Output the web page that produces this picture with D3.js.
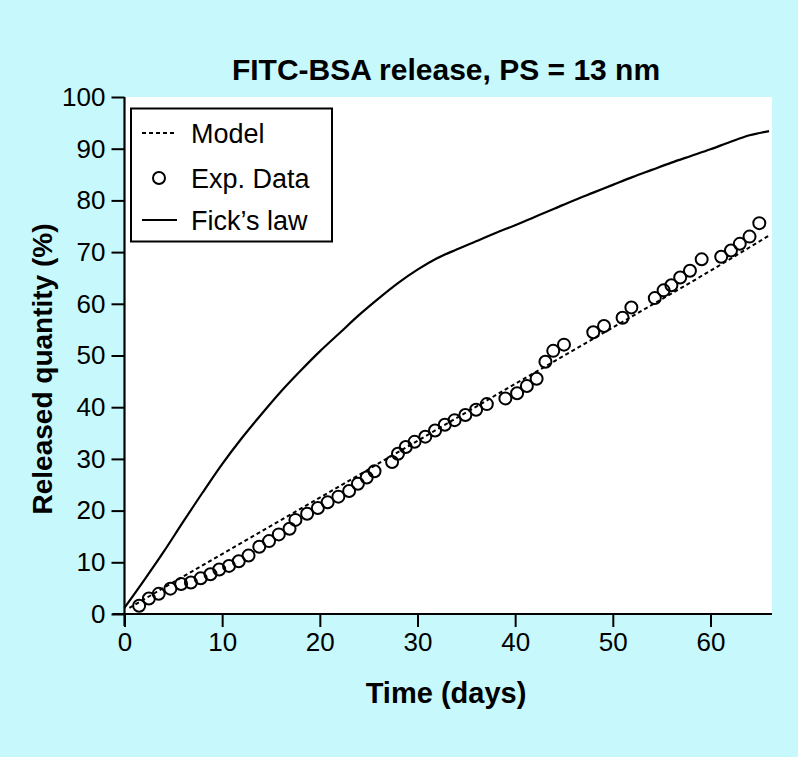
<!DOCTYPE html>
<html><head><meta charset="utf-8">
<script src="https://cdn.jsdelivr.net/npm/d3@7"></script>
<style>body{margin:0;background:#c6f8fc;} svg{display:block;font-family:"Liberation Sans",Arial,Helvetica,sans-serif;}</style>
</head><body>
<script>
const titleText = "FITC-BSA release, PS = 13 nm";
const xLabel = "Time (days)";
const yLabel = "Released quantity (%)";
const xTicks = [0,10,20,30,40,50,60];
const yTicks = [0,10,20,30,40,50,60,70,80,90,100];
const legendLabels = ["Model","Exp. Data","Fick\u2019s law"];

// Experimental data: [day, % released]
const expDays = [1.5,2.5,3.5,4.7,5.8,6.8,7.8,8.8,9.7,10.7,11.7,12.7,13.8,14.8,15.8,16.9,17.5,18.7,19.8,20.8,21.9,23.0,23.9,24.8,25.6,27.4,28.0,28.8,29.7,30.8,31.8,32.8,33.8,34.9,36.0,37.1,39.0,40.2,41.2,42.2,43.1,43.9,45.0,48.0,49.1,51.0,51.9,54.3,55.2,56.0,56.9,57.9,59.1,61.1,62.1,63.0,64.0,65.0];
const expVals = [1.6,3.0,3.9,4.9,5.8,6.1,6.9,7.7,8.6,9.3,10.2,11.3,13.0,14.1,15.4,16.5,18.2,19.4,20.5,21.6,22.7,23.8,25.2,26.4,27.6,29.4,31.0,32.3,33.3,34.3,35.5,36.6,37.5,38.5,39.5,40.6,41.7,42.7,44.1,45.5,48.8,50.9,52.1,54.5,55.7,57.3,59.3,61.1,62.6,63.6,65.1,66.4,68.6,69.1,70.3,71.6,73.0,75.6];

// Model (dotted)
const modelDays = [0.5,10,20,30,40,50,60,66];
const modelVals = [1.2,11.6,22.5,33.5,44.5,55.4,66.4,73.2];

// Fick's law (solid)
const fickDays = [0,2,4,6,8,10,12,14,16,18,20,22,24,26,28,30,32,34,36,38,40,42,44,46,48,50,52,54,56,58,60,62,64,66];
const fickVals = [1.2,6.5,12,17.8,23.5,29,34,38.6,43,47,50.8,54.3,57.8,61,64,66.6,68.8,70.5,72.1,73.7,75.2,76.8,78.4,80,81.5,83,84.5,85.9,87.3,88.6,89.9,91.3,92.6,93.4];

const W = 798, H = 757;
const svg = d3.select("body").append("svg").attr("width", W).attr("height", H);
svg.append("rect").attr("width", W).attr("height", H).attr("fill", "#c6f8fc");

const x = d3.scaleLinear().domain([0, 66.3]).range([124.5, 772]);
const y = d3.scaleLinear().domain([0, 100]).range([614, 97]);

svg.append("rect").attr("x", x(0)).attr("y", y(100)).attr("width", x(66.3) - x(0)).attr("height", y(0) - y(100)).attr("fill", "#fff");

// Axes
const xAxis = svg.append("g").attr("transform", `translate(0,${y(0)})`)
  .call(d3.axisBottom(x).tickValues(xTicks).tickSize(13).tickPadding(6).tickSizeOuter(0));
const yAxis = svg.append("g").attr("transform", `translate(${x(0)},0)`)
  .call(d3.axisLeft(y).tickValues(yTicks).tickSize(13).tickPadding(6).tickSizeOuter(0));
[xAxis, yAxis].forEach(g => {
  g.select(".domain").attr("stroke", "#000").attr("stroke-width", 2.2);
  g.selectAll(".tick line").attr("stroke", "#000").attr("stroke-width", 2);
  g.selectAll(".tick text").attr("fill", "#000").attr("font-size", 26).attr("font-family", "'Liberation Sans', Arial, sans-serif");
});
xAxis.select(".domain").attr("d", `M${x(0)-12},0H${x(66.3)}`);
yAxis.select(".domain").attr("d", `M0,${y(100)}V${y(0)+12}`);

// Fick's law
const line = d3.line().x(d => x(d[0])).y(d => y(d[1])).curve(d3.curveMonotoneX);
svg.append("path").datum(d3.zip(fickDays, fickVals)).attr("d", line)
  .attr("fill", "none").attr("stroke", "#000").attr("stroke-width", 2.2);

// Model
svg.append("path").datum(d3.zip(modelDays, modelVals)).attr("d", line)
  .attr("fill", "none").attr("stroke", "#000").attr("stroke-width", 2).attr("stroke-dasharray", "4,3");

// Exp data
svg.append("g").selectAll("circle").data(d3.zip(expDays, expVals)).join("circle")
  .attr("cx", d => x(d[0])).attr("cy", d => y(d[1])).attr("r", 6)
  .attr("fill", "none").attr("stroke", "#000").attr("stroke-width", 2);

// Legend
const lg = svg.append("g");
lg.append("rect").attr("x", 131).attr("y", 108.5).attr("width", 201).attr("height", 133)
  .attr("fill", "#fff").attr("stroke", "#000").attr("stroke-width", 2);
const rows = [133, 178, 220];
lg.append("line").attr("x1", 142).attr("x2", 177).attr("y1", rows[0]).attr("y2", rows[0])
  .attr("stroke", "#000").attr("stroke-width", 2).attr("stroke-dasharray", "4,3");
lg.append("circle").attr("cx", 159).attr("cy", rows[1]).attr("r", 6).attr("fill", "none").attr("stroke", "#000").attr("stroke-width", 2);
lg.append("line").attr("x1", 142).attr("x2", 177).attr("y1", rows[2]).attr("y2", rows[2])
  .attr("stroke", "#000").attr("stroke-width", 2.2);
lg.selectAll("text.leg").data(legendLabels).join("text").attr("class", "leg")
  .attr("x", 191).attr("y", (d, i) => rows[i]).attr("dy", "0.36em")
  .attr("font-size", 27).attr("fill", "#000").text(d => d);

// Titles
svg.append("text").attr("x", 446).attr("y", 80).attr("text-anchor", "middle")
  .attr("font-size", 30).attr("font-weight", "bold").text(titleText);
svg.append("text").attr("x", 446).attr("y", 703).attr("text-anchor", "middle")
  .attr("font-size", 29).attr("font-weight", "bold").text(xLabel);
svg.append("text").attr("transform", "translate(52,369) rotate(-90)").attr("text-anchor", "middle")
  .attr("font-size", 28).attr("font-weight", "bold").text(yLabel);
</script>
</body></html>
